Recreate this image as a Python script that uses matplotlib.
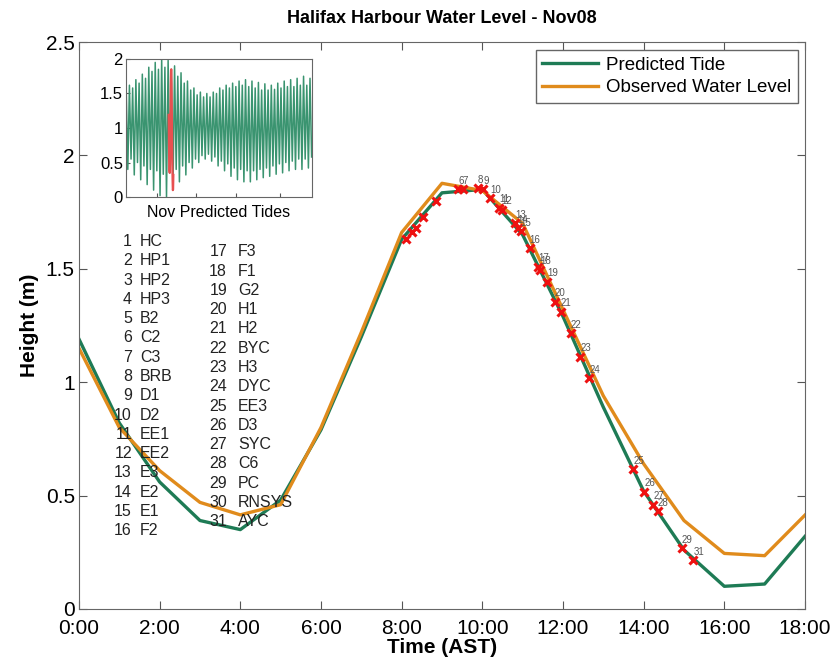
import numpy as np
import matplotlib
matplotlib.use('Agg')
from matplotlib import pyplot as plt

plt.rcParams['font.family'] = ['Liberation Sans', 'DejaVu Sans']

# Hourly water levels for Nov 8 (0:00 .. 18:00)
hours = list(range(19))
predicted = [1.19, 0.82, 0.56, 0.39, 0.35, 0.48, 0.79, 1.20, 1.63, 1.835,
             1.85, 1.65, 1.29, 0.89, 0.52, 0.26, 0.10, 0.11, 0.32]
observed = [1.15, 0.80, 0.61, 0.47, 0.415, 0.46, 0.80, 1.22, 1.66, 1.877,
            1.845, 1.70, 1.32, 0.94, 0.64, 0.39, 0.245, 0.235, 0.414]

# Stations sampled along the track (time in hours, height in m)
station_ids = [1, 2, 3, 4, 5, 6, 7, 8, 9, 10, 11, 12, 13, 14, 15, 16,
               17, 18, 19, 20, 21, 22, 23, 24, 25, 26, 27, 28, 29, 31]
station_times = [8.12, 8.25, 8.35, 8.54, 8.85, 9.40, 9.52, 9.89, 10.02, 10.19,
                 10.42, 10.48, 10.81, 10.88, 10.95, 11.17, 11.39, 11.43, 11.60,
                 11.80, 11.94, 12.19, 12.43, 12.65, 13.74, 14.02, 14.24, 14.35,
                 14.94, 15.23]
station_heights = [1.63, 1.664, 1.68, 1.73, 1.80, 1.85, 1.85, 1.855, 1.85, 1.81,
                   1.77, 1.76, 1.70, 1.68, 1.665, 1.59, 1.51, 1.495, 1.443,
                   1.355, 1.31, 1.216, 1.112, 1.017, 0.616, 0.517, 0.459, 0.43,
                   0.268, 0.216]
labelled_from = 6

station_names = ['HC', 'HP1', 'HP2', 'HP3', 'B2', 'C2', 'C3', 'BRB', 'D1', 'D2',
                 'EE1', 'EE2', 'E3', 'E2', 'E1', 'F2', 'F3', 'F1', 'G2', 'H1',
                 'H2', 'BYC', 'H3', 'DYC', 'EE3', 'D3', 'SYC', 'C6', 'PC',
                 'RNSYS', 'AYC']

# November predicted tides: successive high / low waters (m)
nov_highs = [1.55, 1.62, 1.58, 1.70, 1.65, 1.78, 1.72, 1.88, 1.82, 1.95,
             1.85, 2.00, 1.88, 1.98, 1.85, 1.90, 1.75, 1.80, 1.65, 1.68,
             1.55, 1.58, 1.48, 1.52, 1.45, 1.50, 1.45, 1.52, 1.50, 1.58,
             1.55, 1.62, 1.58, 1.65, 1.60, 1.68, 1.62, 1.70, 1.60, 1.68,
             1.58, 1.66, 1.55, 1.64, 1.55, 1.62, 1.56, 1.65, 1.58, 1.68,
             1.60, 1.70, 1.60, 1.72, 1.62, 1.75, 1.62, 1.72]
nov_lows = [0.40, 0.55, 0.32, 0.50, 0.25, 0.45, 0.18, 0.40, 0.10, 0.38,
            0.02, 0.33, 0.00, 0.35, 0.10, 0.40, 0.22, 0.45, 0.32, 0.50,
            0.42, 0.55, 0.50, 0.60, 0.55, 0.62, 0.52, 0.58, 0.45, 0.52,
            0.38, 0.48, 0.30, 0.42, 0.25, 0.40, 0.22, 0.38, 0.22, 0.38,
            0.25, 0.40, 0.28, 0.42, 0.30, 0.45, 0.33, 0.48, 0.35, 0.50,
            0.38, 0.52, 0.40, 0.55, 0.40, 0.55, 0.42, 0.58]
first_high_day = 0.183
half_tide_days = 12.42 / 24 / 2
selected_day = 7

GREEN = '#1e7b55'
ORANGE = '#e08b1c'

fig = plt.figure(figsize=(8.34, 6.67), dpi=100)
ax = fig.add_axes([0.0947, 0.087, 0.8705, 0.850])

ax.plot(hours, predicted, color=GREEN, lw=2.4, label='Predicted Tide')
ax.plot(hours, observed, color=ORANGE, lw=2.4, label='Observed Water Level')
ax.plot(station_times, station_heights, 'x', color='#ee1111', ms=6, mew=2.2)
for sid, t, h in zip(station_ids, station_times, station_heights):
    if sid >= labelled_from:
        ax.annotate(str(sid), (t, h), xytext=(0, 2.5), textcoords='offset points',
                    fontsize=7, color='#555555', ha='left', va='bottom')

ax.set_xlim(0, 18)
ax.set_ylim(0, 2.5)
ax.set_xticks(range(0, 19, 2))
ax.set_xticklabels(['%d:00' % h for h in range(0, 19, 2)])
ax.set_yticks([0, 0.5, 1, 1.5, 2, 2.5])
ax.set_yticklabels(['0', '0.5', '1', '1.5', '2', '2.5'])
ax.tick_params(direction='in', top=True, right=True, labelsize=15,
               length=6, color='#555555')
ax.tick_params(axis='x', pad=7)
ax.tick_params(axis='y', pad=3)
for sp in ax.spines.values():
    sp.set_color('#666666')
ax.set_xlabel('Time (AST)', fontsize=15, fontweight='bold', labelpad=0)
ax.set_ylabel('Height (m)', fontsize=15, fontweight='bold', labelpad=5)
ax.set_title('Halifax Harbour Water Level - Nov08', fontsize=13,
             fontweight='bold', pad=14)

leg = ax.legend(loc='upper right', bbox_to_anchor=(0.990, 0.986), fontsize=13.5,
                handlelength=3.0, fancybox=False, framealpha=1,
                edgecolor='#666666', borderaxespad=0, labelspacing=0.3,
                handletextpad=0.4, borderpad=0.35)
leg.get_frame().set_linewidth(1.0)

# station key, two columns
row_step = 0.034
for i, name in enumerate(station_names):
    if i < 16:
        xn, xs, y0, row = 0.073, 0.084, 0.648, i
    else:
        xn, xs, y0, row = 0.204, 0.219, 0.630, i - 16
    y = y0 - row * row_step
    ax.text(xn, y, str(i + 1), transform=ax.transAxes, fontsize=11.5,
            ha='right', va='center', color='#222222')
    ax.text(xs, y, name, transform=ax.transAxes, fontsize=11.5,
            ha='left', va='center', color='#222222')

# inset: the whole month
ins = fig.add_axes([0.1507, 0.7046, 0.2234, 0.207])
extremes = []
for hi, lo in zip(nov_highs, nov_lows):
    extremes.extend([hi, lo])
days = first_high_day + half_tide_days * np.arange(len(extremes))
ins.plot(days, extremes, color='#3a9470', lw=1.1)
ins.plot(selected_day + np.array(hours) / 24.0, predicted, color='#e85050', lw=1.6)
ins.set_xlim(0.1, 30)
ins.set_ylim(0, 2)
ins.set_yticks([0, 0.5, 1, 1.5, 2])
ins.set_yticklabels(['0', '0.5', '1', '1.5', '2'])
ins.set_xticks([5.2, 11.4, 17.8, 24.8])
ins.set_xticklabels([])
ins.tick_params(direction='in', labelsize=12, length=3, color='#555555', pad=2)
for sp in ins.spines.values():
    sp.set_color('#666666')
ins.set_xlabel('Nov Predicted Tides', fontsize=11.5, labelpad=4)

fig.savefig('out.png', dpi=100)
